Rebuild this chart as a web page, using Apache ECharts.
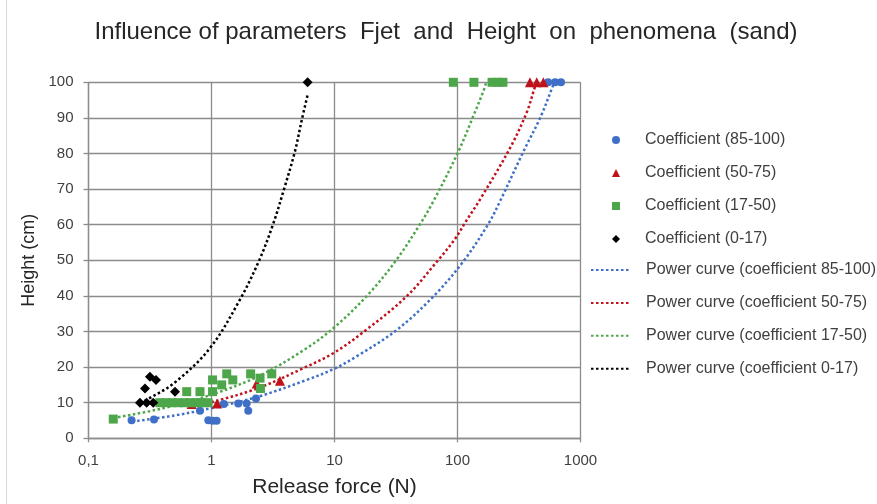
<!DOCTYPE html>
<html><head><meta charset="utf-8">
<script src="https://cdn.jsdelivr.net/npm/echarts@6/dist/echarts.min.js"></script>
<style>html,body{margin:0;padding:0;background:#fff}#c{width:877px;height:504px}</style>
</head><body><div id="c"></div>
<script>
// ---- data ----
const xTicks = [0.1, 1, 10, 100, 1000];
const yTicks = [0, 10, 20, 30, 40, 50, 60, 70, 80, 90, 100];

const blueX = [0.224, 0.341, 0.806, 0.942, 1.02, 1.10, 1.26, 1.65, 1.93, 1.99, 2.30, 545, 621, 694];
const blueY = [5.1, 5.3, 7.75, 5.1, 4.9, 4.9, 9.6, 9.8, 9.8, 7.75, 11.2, 100, 100, 100];

const redX = [0.69, 1.11, 2.33, 3.6, 388, 441, 499];
const redY = [9.6, 9.8, 15.4, 16.2, 100, 100, 100];

const greenX = [0.159, 0.381, 0.427, 0.477, 0.535, 0.598, 0.669, 0.748, 0.837, 0.937,
                0.629, 0.806, 1.02, 1.02, 1.33, 1.49, 1.21, 2.08, 2.48, 2.50, 3.09,
                92.5, 136, 191, 213, 234];
const greenY = [5.4, 10, 10, 10, 10, 10, 10, 10, 10, 10,
                13.1, 13.1, 16.4, 13.1, 18.1, 16.4, 15.0, 18.1, 16.9, 14.0, 18.1,
                100, 100, 100, 100, 100];

const blackX = [0.262, 0.297, 0.336, 0.288, 0.316, 0.354, 0.505, 6.05];
const blackY = [10, 10, 10, 14.0, 17.3, 16.4, 13.1, 100];

// power trend curves
const blueCurveX = [0.227, 0.5, 1.07, 2.4, 5.94, 9.77, 15.1, 32, 63.5, 111, 178, 221, 343, 474, 594, 615];
const blueCurveY = [4.7, 6.4, 8.7, 11.7, 16.4, 19.4, 23.0, 30.4, 39.8, 49.6, 60.2, 66.5, 80.5, 90.3, 98.8, 100];

const redCurveX = [0.69, 1.15, 2.44, 5.58, 9.77, 17.1, 38.6, 69.8, 95.5, 115, 157, 267, 365, 427, 441];
const redCurveY = [8.9, 10.7, 14.2, 19.7, 23.9, 29.8, 39.9, 50.1, 56.0, 60.5, 67.8, 81.5, 91.5, 98.8, 100];

const greenCurveX = [0.159, 0.4, 1.03, 2.5, 5.58, 9.77, 18.8, 32, 50.1, 63.5, 101.5, 134, 164, 171];
const greenCurveY = [5.7, 8.4, 12.4, 17.7, 24.7, 30.9, 40.4, 50.2, 60.4, 66.5, 80.5, 90.4, 97.9, 100];

const blackCurveX = [0.262, 0.3, 0.5, 0.97, 1.7, 2.45, 3.18, 3.88, 4.77, 5.41, 6.05];
const blackCurveY = [10.0, 10.9, 15.6, 25.3, 38.9, 50.1, 60.3, 69.9, 80.6, 89.3, 96.5];

const scatterNames = ['Coefficient (85-100)', 'Coefficient (50-75)', 'Coefficient (17-50)', 'Coefficient (0-17)'];
const curveNames = ['Power curve (coefficient 85-100)', 'Power curve (coefficient 50-75)', 'Power curve (coefficient 17-50)', 'Power curve (coefficient 0-17)'];

// ---- build ----
const zip = (xs, ys) => xs.map((x, i) => [x, ys[i]]);
const C = { blue: '#3f6fc6', red: '#c0121b', green: '#4ea64a', black: '#000000' };
const FONT = '"Liberation Sans", Arial, sans-serif';
const dot = { width: 2.5, type: [2.5, 2.5], cap: 'butt' };

function sc(name, xs, ys, color, symbol, size) {
  return { name, type: 'scatter', data: zip(xs, ys), symbol, symbolSize: size,
    itemStyle: { color, opacity: 1 }, z: 4 };
}
function ln(name, xs, ys, color) {
  return { name, type: 'line', data: zip(xs, ys), smooth: 0.35, symbol: 'none', showSymbol: false,
    lineStyle: Object.assign({ color }, dot), itemStyle: { color }, z: 3 };
}

const legendText = { fontFamily: FONT, fontSize: 16, color: '#404040', lineHeight: 16 };

const option = {
  animation: false,
  backgroundColor: '#fff',
  textStyle: { fontFamily: FONT },
  title: {
    text: 'Influence of parameters  Fjet  and  Height  on  phenomena  (sand)',
    left: 441, top: 15, textAlign: 'center',
    textStyle: { fontFamily: FONT, fontSize: 24, fontWeight: 'normal', color: '#262626' }
  },
  grid: { left: 88.5, right: 296.5, top: 82.3, bottom: 65.7, containLabel: false },
  xAxis: {
    type: 'log', logBase: 10, min: xTicks[0], max: xTicks[xTicks.length - 1],
    name: 'Release force (N)', nameLocation: 'middle', nameGap: 38,
    nameTextStyle: { fontFamily: FONT, fontSize: 21, color: '#262626' },
    axisLine: { show: true, lineStyle: { color: '#8c8c8c', width: 1.3 } },
    axisTick: { show: true, length: 4, lineStyle: { color: '#8c8c8c', width: 1.3 } },
    axisLabel: { margin: 15, fontFamily: FONT, fontSize: 15, color: '#404040',
      formatter: v => String(v).replace('.', ',') },
    splitLine: { show: true, lineStyle: { color: '#8c8c8c', width: 1.3 } },
    minorTick: { show: false }
  },
  yAxis: {
    type: 'value', min: yTicks[0], max: yTicks[yTicks.length - 1], interval: 10,
    name: 'Height (cm)', nameLocation: 'middle', nameGap: 47, nameRotate: 90,
    nameTextStyle: { fontFamily: FONT, fontSize: 18, color: '#262626' },
    axisLine: { show: true, lineStyle: { color: '#8c8c8c', width: 1.3 } },
    axisTick: { show: true, length: 5, lineStyle: { color: '#8c8c8c', width: 1.3 } },
    axisLabel: { margin: 15, fontFamily: FONT, fontSize: 15, color: '#404040' },
    splitLine: { show: true, lineStyle: { color: '#8c8c8c', width: 1.3 } }
  },
  legend: [
    { data: scatterNames, orient: 'vertical', left: 612, top: 132, padding: 0,
      itemWidth: 8, itemHeight: 8, itemGap: 17.0,
      textStyle: Object.assign({ padding: [0, 0, 0, 20] }, legendText) },
    { data: curveNames, orient: 'vertical', left: 590, top: 262, padding: 0,
      itemWidth: 38, itemHeight: 8, itemGap: 16.9,
      itemStyle: { opacity: 0 },
      textStyle: Object.assign({ padding: [0, 0, 0, 12] }, legendText) }
  ],
  graphic: [{ type: 'line', shape: { x1: 6.5, y1: 0, x2: 6.5, y2: 504 }, style: { stroke: '#d9d9d9', lineWidth: 1 }, silent: true }],
  series: [
    ln(curveNames[0], blueCurveX, blueCurveY, C.blue),
    ln(curveNames[1], redCurveX, redCurveY, C.red),
    ln(curveNames[2], greenCurveX, greenCurveY, C.green),
    ln(curveNames[3], blackCurveX, blackCurveY, C.black),
    sc(scatterNames[0], blueX, blueY, C.blue, 'circle', 8),
    sc(scatterNames[1], redX, redY, C.red, 'triangle', 10),
    sc(scatterNames[2], greenX, greenY, C.green, 'rect', 9),
    sc(scatterNames[3], blackX, blackY, C.black, 'diamond', 10)
  ]
};
echarts.init(document.getElementById('c'), null, { renderer: 'canvas' }).setOption(option);
</script></body></html>
